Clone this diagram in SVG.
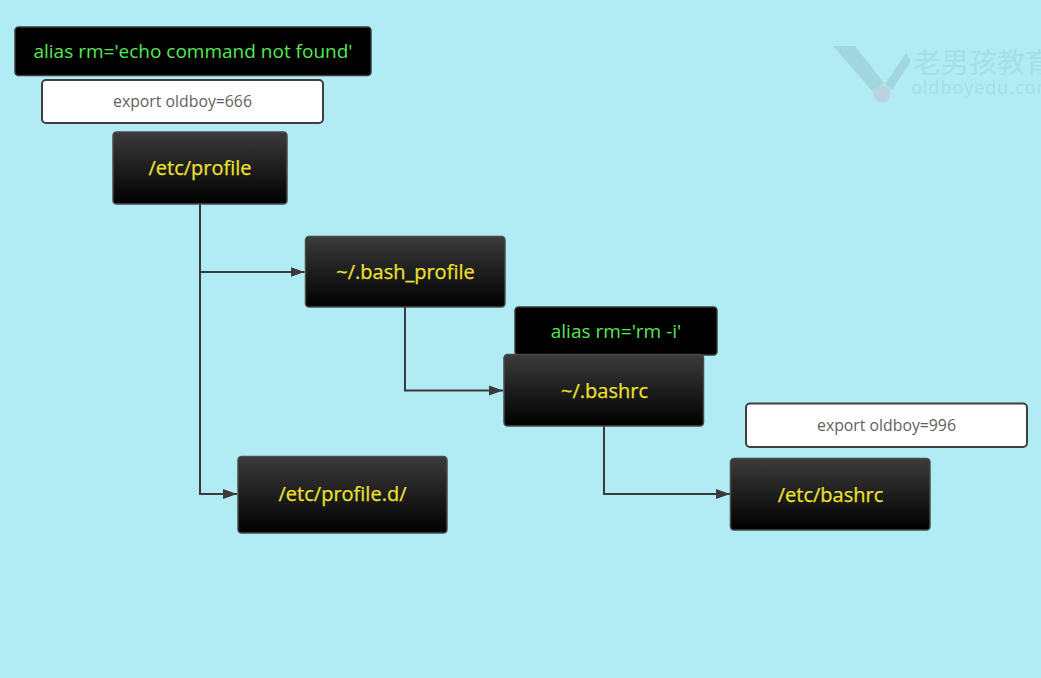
<svg xmlns="http://www.w3.org/2000/svg" width="1041" height="678" viewBox="0 0 1041 678">
<style>
text{font-family:"Open Sans","Noto Sans","Liberation Sans","Noto Sans CJK SC",sans-serif;text-anchor:middle}
.dark{fill:url(#g);stroke:#4a4a4a;stroke-width:1.5}
.black{fill:#000;stroke:#3a3a3a;stroke-width:1.5}
.white{fill:#fff;stroke:#3f3f3f;stroke-width:2}
.y{fill:#efe02f;font-size:20px;stroke:#efe02f;stroke-width:.25}
.gr{fill:#55e855;font-size:19px}
.k{fill:#5f5f5f;font-size:15.800px}
.c{fill:none;stroke:#3a3a3a;stroke-width:2}
.wm{fill:#a5dee7;text-anchor:start}
</style>
<defs>
<linearGradient id="g" x1="0" y1="0" x2="0" y2="1"><stop offset="0" stop-color="#3b3b3b"/><stop offset="1" stop-color="#000"/></linearGradient>
<marker id="a" markerUnits="userSpaceOnUse" markerWidth="15" markerHeight="11" refX="14" refY="5.500" orient="auto"><path d="M0 0.500L14 5.500L0 10.500Z" fill="#3a3a3a"/></marker>
</defs>
<rect width="1041" height="678" fill="#b1ecf4"/>
<g id="watermark">
<path d="M833 46H855L884 83L873 92Z" fill="#a2d7e0"/>
<path d="M885 84L906 53L911 61L892 90Z" fill="#a2d7e0"/>
<circle cx="882" cy="94" r="8.500" fill="#bcd3de"/>
<text class="wm" x="913" y="73" style="font-family:'Noto Sans CJK SC',sans-serif" font-size="28">老男孩教育</text>
<text class="wm" x="911" y="94" font-size="18" letter-spacing="1">oldboyedu.com</text>
</g>
<g id="connectors">
<path class="c" d="M200 204V494H237" marker-end="url(#a)"/>
<path class="c" d="M200 272H304.500" marker-end="url(#a)"/>
<path class="c" d="M405 307V390.500H503" marker-end="url(#a)"/>
<path class="c" d="M604 426V494H730" marker-end="url(#a)"/>
</g>
<g id="n1"><rect class="black" x="15" y="27" width="356" height="48.500" rx="3.500"/><text class="gr" x="193" y="58">alias rm='echo command not found'</text></g>
<g id="n2"><rect class="white" x="42" y="80" width="281" height="43" rx="4"/><text class="k" x="182.500" y="107">export oldboy=666</text></g>
<g id="n3"><rect class="dark" x="113" y="132" width="174" height="72" rx="3.500"/><text class="y" x="200" y="174.500">/etc/profile</text></g>
<g id="n4"><rect class="dark" x="305.500" y="236.500" width="199.500" height="70.500" rx="3.500"/><text class="y" x="405.500" y="279">~/.bash_profile</text></g>
<g id="n5"><rect class="black" x="515" y="307" width="202" height="48" rx="3.500"/><text class="gr" x="616" y="338">alias rm='rm -i'</text></g>
<g id="n6"><rect class="dark" x="504" y="354.500" width="199.500" height="71.500" rx="3.500"/><text class="y" x="604.500" y="397.500">~/.bashrc</text></g>
<g id="n7"><rect class="dark" x="238" y="456.500" width="209" height="76.500" rx="3.500"/><text class="y" x="342.500" y="501">/etc/profile.d/</text></g>
<g id="n8"><rect class="white" x="746" y="403.500" width="281" height="43.500" rx="4"/><text class="k" x="886.500" y="431">export oldboy=996</text></g>
<g id="n9"><rect class="dark" x="730.500" y="458.500" width="199.500" height="71.500" rx="3.500"/><text class="y" x="830.500" y="501.500">/etc/bashrc</text></g>
</svg>
